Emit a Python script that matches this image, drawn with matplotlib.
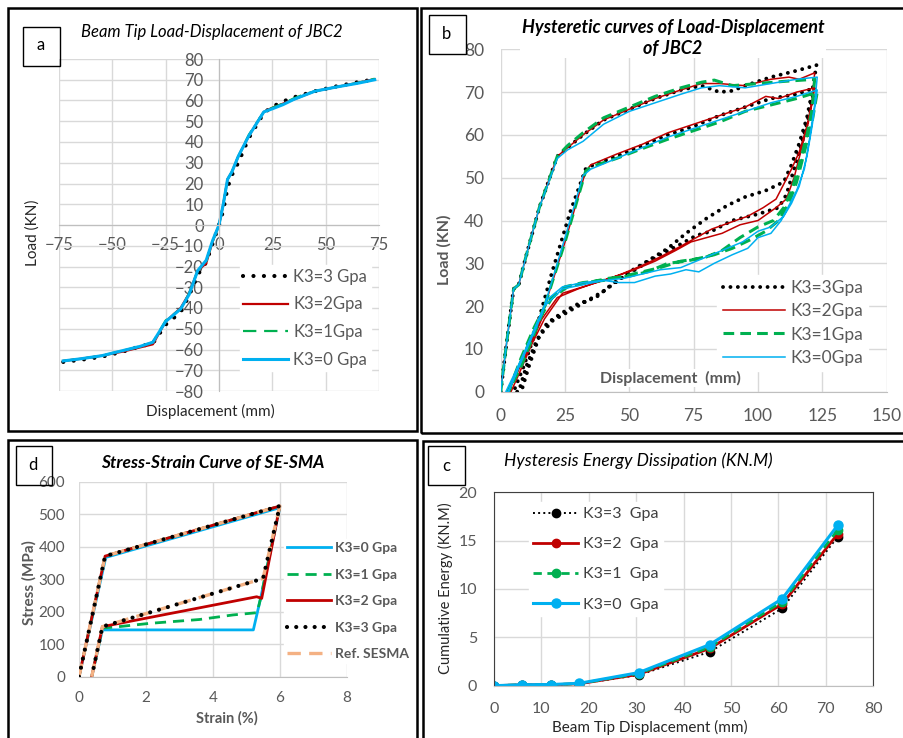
import matplotlib
matplotlib.use("Agg")
import matplotlib.pyplot as plt
from matplotlib.patches import Rectangle

plt.rcParams["font.family"] = ["Lato", "DejaVu Sans"]

W, H = 904, 738

# ---------------- data ----------------
# (a) beam tip load-displacement backbone
disp_a = [-73, -65, -55, -45, -37, -31, -25, -18, -14, -10, -6, -3, 0, 2, 4, 6, 9, 14, 21, 25, 30, 35, 40, 45, 55, 65, 73]
load_a_k3 = [-66, -65, -63.5, -61, -58.5, -57, -48, -42, -34, -24, -18, -9, 0, 7, 18, 24, 30, 42, 54, 57, 59.5, 61.5, 63, 64.5, 66.8, 68.8, 70.2]
load_a_k2 = [-65.5, -64.5, -63, -61, -59, -57.5, -46.5, -40, -33, -22, -18.5, -8, 0, 10, 22, 25.5, 33, 43, 54.5, 56.5, 58.5, 60.5, 62.5, 64.5, 66.5, 68.5, 70.3]
load_a_k1 = [-65.5, -64.5, -63, -60.5, -58.5, -56.5, -46, -40.5, -33, -22, -17.5, -8, 0, 10, 22, 25.5, 33, 43.5, 54.5, 56.5, 58.5, 61, 63, 64.5, 66.5, 68.5, 70.5]
load_a_k0 = [-65.5, -64.5, -63, -60.5, -58.5, -56.5, -46.5, -40.5, -33.5, -22, -17, -7.5, 0, 10, 22, 25.5, 33, 43, 54.5, 56, 58, 60.5, 62.5, 64.5, 66.5, 68.3, 70]

# (b) hysteretic curves
hx_k3 = [0, 2, 5, 7, 10, 15, 22, 26, 32, 40, 50, 60, 70, 78, 85, 90, 95, 105, 115, 122.7,
         121, 119, 116, 113, 110, 103, 95, 88, 80, 72, 65, 57, 50, 43, 37, 30, 24, 18, 14, 10, 7,
         5, 9, 13, 20, 27, 33, 36, 45, 55, 65, 75, 85, 95, 105, 115, 122,
         120, 117, 114, 111, 108, 100, 90, 82, 76, 70, 62, 55, 48, 40, 30, 20, 15, 11, 8]
hy_k3 = [0, 10, 24, 25, 32, 43, 55, 57, 60, 63.5, 66, 68.5, 70.5, 71.5, 70, 70.3, 71.5, 73.5, 75, 76.3,
         70, 64, 58, 53, 49, 47, 45.5, 43.5, 40.5, 37, 33.5, 30.5, 28, 25, 22, 20.5, 18.5, 16, 12, 6, 0,
         0, 6, 13, 28, 42, 52, 53, 55, 57.5, 60, 62, 64.5, 66.5, 68.5, 69.5, 71,
         65, 58, 52, 46, 43, 41.5, 40, 37.5, 36.5, 34.5, 32, 29.5, 27, 23.5, 20, 16.5, 13, 6, 0]
hx_k2 = [0, 2, 5, 7, 10, 15, 22, 26, 32, 40, 50, 60, 70, 78, 85, 95, 105, 112, 116, 122,
         121, 119, 116, 113, 110, 107, 102, 96, 89, 82, 76, 70, 62, 55, 47, 40, 32, 24, 17, 12, 7, 4,
         3, 8, 15, 25, 33, 35, 45, 55, 65, 75, 85, 95, 103, 108, 115, 122,
         120, 117, 114, 111, 107, 100, 93, 86, 80, 74, 68, 60, 52, 45, 37, 30, 22, 16, 10, 3]
hy_k2 = [0, 10, 24, 25, 32, 43, 55, 57, 60, 63.5, 66, 68.5, 70.5, 72, 72, 71.5, 73, 73.5, 73, 74.5,
         68, 62, 56, 52, 48.5, 45, 43, 41, 39.5, 38, 36, 34, 31.5, 29.5, 27.5, 26, 24.5, 23, 17, 11, 4, 0,
         0, 7, 16, 35, 51.5, 53, 55.5, 57.8, 60.5, 62.5, 64.5, 66.5, 69, 68.5, 70, 71,
         64, 57, 50, 45, 43, 40, 39, 37, 36, 35, 33, 30.5, 28.5, 27, 25.5, 24, 22, 17, 9, 0]
hx_k1 = [0, 2, 5, 7, 10, 15, 22, 26, 32, 40, 50, 60, 70, 78, 83, 90, 100, 110, 122,
         121, 119, 116, 113, 110, 106, 100, 93, 86, 80, 72, 65, 57, 50, 42, 34, 26, 20, 15, 10, 5, 3,
         3, 8, 16, 25, 33, 35, 45, 55, 65, 75, 85, 95, 105, 115, 123,
         121, 118, 115, 112, 108, 103, 97, 90, 83, 76, 70, 62, 55, 48, 40, 32, 25, 18, 13, 8, 3]
hy_k1 = [0, 10, 24, 25, 32, 43, 55, 57.5, 60.5, 64, 66.5, 69, 71, 72.3, 72.8, 71.5, 72, 72.5, 73,
         66, 60, 53, 47, 43, 40, 38.5, 36, 33, 31.5, 30.5, 30, 28, 27, 26.5, 25.5, 24.5, 22, 17, 10, 3, 0,
         0, 6, 18, 35, 51.5, 52.5, 54.5, 56.8, 59, 61, 63, 65.5, 67, 68.5, 70,
         63, 56, 49, 44, 40, 37.5, 35.5, 33.5, 32, 31, 30.5, 29, 28, 27, 26, 25.5, 24.5, 21, 15, 8, 0]
hx_k0 = [0, 2, 5, 7, 10, 15, 22, 26, 32, 40, 50, 60, 70, 78, 85, 95, 105, 115, 123,
         122, 120, 118, 115, 112, 109, 105, 100, 96, 90, 83, 77, 72, 66, 60, 52, 46, 40, 32, 24, 18, 12, 6, 2,
         3, 8, 16, 25, 32, 35, 45, 55, 65, 75, 85, 95, 105, 115, 123,
         121, 119, 116, 113, 110, 105, 100, 94, 88, 82, 76, 70, 62, 55, 48, 40, 32, 24, 17, 12, 7, 3]
hy_k0 = [0, 10, 24, 25, 32, 43, 54.5, 56.5, 58.5, 62.5, 65.5, 67.5, 69.5, 71, 71.5, 71, 72, 73, 73.5,
         67, 59, 52, 47, 43.5, 40, 37, 36, 33.5, 32, 30, 28, 28.5, 27.5, 27, 25.5, 25.5, 26, 25.5, 24.5, 21.5, 13, 5, 0,
         0, 7, 18, 36, 50.5, 52, 54.5, 57, 59.5, 61.5, 63.5, 65.5, 67.5, 69, 70.5,
         62, 55, 48, 44, 41, 38.5, 37.5, 35, 33.5, 32, 30.5, 29, 28.5, 27.5, 26.5, 26, 25, 24, 20, 13, 6, 0]

# (c) hysteresis energy dissipation
disp_c = [0, 6, 12, 18, 30.5, 45.5, 60.8, 72.5]
energy_k3 = [0, 0.1, 0.1, 0.2, 1.1, 3.5, 8.0, 15.4]
energy_k2 = [0, 0.1, 0.1, 0.2, 1.17, 3.85, 8.45, 15.7]
energy_k1 = [0, 0.1, 0.1, 0.22, 1.25, 4.0, 8.7, 16.1]
energy_k0 = [0, 0.1, 0.12, 0.25, 1.35, 4.25, 9.0, 16.6]

# (d) SE-SMA stress-strain
strain_ref = [0, 0.78, 6.0, 5.5, 0.7, 0.38]
stress_ref = [0, 371, 525, 302, 154, 0]
strain_k3 = [0, 0.78, 6.0, 5.5, 0.7, 0.38]
stress_k3 = [0, 371, 525, 302, 154, 0]
strain_k2 = [0, 0.78, 6.0, 5.46, 5.31, 0.7, 0.38]
stress_k2 = [0, 371, 525, 241, 246, 154, 0]
strain_k1 = [0, 0.78, 6.0, 5.42, 5.32, 4.6, 3.6, 2.1, 1.1, 0.7, 0.38]
stress_k1 = [0, 371, 525, 238, 197, 190, 176, 164, 153, 150, 0]
strain_k0 = [0, 0.8, 6.0, 5.42, 5.21, 0.7, 0.38]
stress_k0 = [0, 367, 520, 238, 144, 144, 0]

RED = "#C00000"
GREEN = "#00B050"
CYAN = "#00B0F0"
ORANGE = "#F4B183"
GRID = "#D9D9D9"
TICK = "#595959"


def px_axes(l, t, r, b):
    return fig.add_axes([l / W, 1 - b / H, (r - l) / W, (b - t) / H])


def px_rect(l, t, r, b, lw):
    fig.add_artist(Rectangle((l / W, 1 - b / H), (r - l) / W, (b - t) / H,
                             transform=fig.transFigure, fill=False, ec="black", lw=lw))


def px_text(x, y, s, **kw):
    fig.text(x / W, 1 - y / H, s, ha="center", va="center", **kw)


def dotted(lw, gap):
    return dict(color="black", lw=lw, linestyle=(0, (0.01, gap)), dash_capstyle="round")


fig = plt.figure(figsize=(W / 100, H / 100), dpi=100)

# panel borders and letter boxes
px_rect(8, 8, 417, 431, 1.8)
px_rect(421, 8, 910, 433, 1.8)
px_rect(8, 440, 417, 745, 1.8)
px_rect(423, 441, 910, 745, 1.8)
px_rect(23, 27, 60, 66, 1.0)
px_rect(429, 15, 466, 54, 1.0)
px_rect(16, 446, 52, 485, 1.0)
px_rect(428, 446, 465, 485, 1.0)
px_text(41, 45, "a", fontsize=12)
px_text(447, 34, "b", fontsize=12)
px_text(33, 465, "d", fontsize=12)
px_text(446, 466, "c", fontsize=12)

# ---------------- (a) ----------------
ax = px_axes(59, 59, 379, 391)
ax.plot(disp_a, load_a_k3, label="K3=3 Gpa", **dotted(3.0, 2.5))
ax.plot(disp_a, load_a_k2, color=RED, lw=1.6, label="K3=2Gpa")
ax.plot(disp_a, load_a_k1, color=GREEN, lw=1.6, linestyle=(0, (6, 3.5)), label="K3=1Gpa")
ax.plot(disp_a, load_a_k0, color=CYAN, lw=2.2, label="K3=0 Gpa")
ax.set_xlim(-75, 75)
ax.set_ylim(-80, 80)
ax.set_xticks([-75, -50, -25, 0, 25, 50, 75])
ax.set_yticks(range(-80, 81, 10))
ax.grid(color=GRID, lw=1)
ax.set_axisbelow(True)
for s in ["top", "right"]:
    ax.spines[s].set_visible(False)
ax.spines["left"].set_position("zero")
ax.spines["bottom"].set_position("zero")
ax.spines["left"].set_color("#BFBFBF")
ax.spines["bottom"].set_color("#BFBFBF")
ax.tick_params(length=0, labelsize=12, labelcolor=TICK)
ax.tick_params(axis="x", pad=8.5)
ax.tick_params(axis="y", pad=11)
ax.legend(loc="lower right", bbox_to_anchor=(1.0, 0.035), fontsize=12, frameon=True,
          framealpha=1, edgecolor="white", handlelength=2.7, labelspacing=0.7,
          borderpad=0.2, handletextpad=0.3, labelcolor=TICK, fancybox=False)
px_text(212, 32, "Beam Tip Load-Displacement of JBC2", fontsize=12, style="italic", color="black")
px_text(33, 233, "Load (KN)", fontsize=11, rotation=90, color="#262626")
px_text(210, 411, "Displacement (mm)", fontsize=11, color="#262626")

# ---------------- (b) ----------------
ax = px_axes(500.7, 49.3, 886.7, 391.7)
ax.plot(hx_k3, hy_k3, label="K3=3Gpa", **dotted(2.8, 1.9))
ax.plot(hx_k2, hy_k2, color=RED, lw=1.1, label="K3=2Gpa")
ax.plot(hx_k1, hy_k1, color=GREEN, lw=2.2, linestyle=(0, (3.5, 2)), label="K3=1Gpa")
ax.plot(hx_k0, hy_k0, color=CYAN, lw=1.1, label="K3=0Gpa")
ax.set_xlim(0, 150)
ax.set_ylim(0, 80)
ax.set_xticks(range(0, 151, 25))
ax.set_yticks(range(0, 81, 10))
ax.grid(color=GRID, lw=1)
ax.set_axisbelow(True)
for s in ["top", "right", "left"]:
    ax.spines[s].set_visible(False)
ax.spines["bottom"].set_color("#BFBFBF")
ax.tick_params(length=0, labelsize=12.5, labelcolor=TICK)
ax.tick_params(axis="x", pad=12)
ax.tick_params(axis="y", pad=12)
ax.legend(loc="lower right", bbox_to_anchor=(0.975, 0.035), fontsize=12.5, frameon=True,
          framealpha=1, edgecolor="white", handlelength=3.6, labelspacing=0.42,
          borderpad=0.3, handletextpad=0.3, labelcolor=TICK, fancybox=False)
px_text(673, 38, "Hysteretic curves of Load-Displacement\nof JBC2", fontsize=13,
        style="italic", weight="bold", linespacing=1.25,
        bbox=dict(facecolor="white", edgecolor="none", pad=1))
px_text(670, 378, "Displacement  (mm)", fontsize=11.5, weight="bold", color=TICK,
        bbox=dict(facecolor="white", edgecolor="none", pad=1))
px_text(444, 250, "Load (KN)", fontsize=11.5, weight="bold", color=TICK, rotation=90)

# ---------------- (d) ----------------
ax = px_axes(79, 481.7, 346.7, 676.7)
l0, = ax.plot(strain_k0, stress_k0, color=CYAN, lw=2.0)
l1, = ax.plot(strain_k1, stress_k1, color=GREEN, lw=2.0, linestyle=(0, (4, 2.5)))
l2, = ax.plot(strain_k2, stress_k2, color=RED, lw=2.0)
lr, = ax.plot(strain_ref, stress_ref, color=ORANGE, lw=2.4, linestyle=(0, (4, 2.5)))
l3, = ax.plot(strain_k3, stress_k3, **dotted(3.0, 2.2))
ax.set_xlim(0, 8)
ax.set_ylim(0, 600)
ax.set_xticks(range(0, 9, 2))
ax.set_yticks(range(0, 601, 100))
ax.grid(color=GRID, lw=1)
ax.set_axisbelow(True)
for s in ["top", "right", "left"]:
    ax.spines[s].set_visible(False)
ax.spines["bottom"].set_color("#BFBFBF")
ax.tick_params(length=0, labelsize=11, labelcolor=TICK)
ax.tick_params(axis="x", pad=10)
ax.tick_params(axis="y", pad=10)
ax.legend([l0, l1, l2, l3, lr], ["K3=0 Gpa", "K3=1 Gpa", "K3=2 Gpa", "K3=3 Gpa", "Ref. SESMA"],
          loc="lower left", bbox_to_anchor=(0.765, 0.07), borderaxespad=0,
          prop=dict(weight="bold", size=10), frameon=True, framealpha=1, edgecolor="white",
          handlelength=3.2, labelspacing=1.05, borderpad=0.2, handletextpad=0.3,
          labelcolor=TICK, fancybox=False)
px_text(213, 463, "Stress-Strain Curve of SE-SMA", fontsize=12.5, style="italic", weight="bold")
px_text(29, 583, "Stress (MPa)", fontsize=11, weight="bold", color=TICK, rotation=90)
px_text(227, 718, "Strain (%)", fontsize=10.5, weight="bold", color=TICK)

# ---------------- (c) ----------------
ax = px_axes(494, 492.3, 873.3, 685.7)
ax.plot(disp_c, energy_k3, color="black", lw=1.4, linestyle=":", marker="o", ms=6, label="K3=3  Gpa")
ax.plot(disp_c, energy_k2, color=RED, lw=2.0, marker="o", ms=6, label="K3=2  Gpa")
ax.plot(disp_c, energy_k1, color=GREEN, lw=2.0, linestyle=(0, (3, 2)), marker="o", ms=6, label="K3=1  Gpa")
ax.plot(disp_c, energy_k0, color=CYAN, lw=2.2, marker="o", ms=6.5, label="K3=0  Gpa")
ax.set_xlim(0, 80)
ax.set_ylim(0, 20)
ax.set_xticks(range(0, 81, 10))
ax.set_yticks(range(0, 21, 5))
ax.grid(color=GRID, lw=1)
ax.set_axisbelow(True)
for s in ["top", "right", "left"]:
    ax.spines[s].set_color("#404040")
ax.spines["bottom"].set_color("#BFBFBF")
ax.tick_params(length=0, labelsize=11.5, labelcolor="#595959")
ax.tick_params(axis="x", pad=12)
ax.tick_params(axis="y", pad=12)
ax.legend(loc="upper left", bbox_to_anchor=(0.07, 0.99), fontsize=11.5, frameon=True,
          framealpha=1, edgecolor="white", handlelength=2.8, labelspacing=1.0,
          borderpad=0.3, handletextpad=0.3, labelcolor="#404040", fancybox=False)
px_text(638, 461, "Hysteresis Energy Dissipation (KN.M)", fontsize=12.5, style="italic")
px_text(445, 588, "Cumulative Energy (KN.M)", fontsize=10.5, rotation=90, color="#262626")
px_text(650, 727, "Beam Tip Displacement (mm)", fontsize=11, color="#262626")

fig.savefig("out.png", dpi=100)
